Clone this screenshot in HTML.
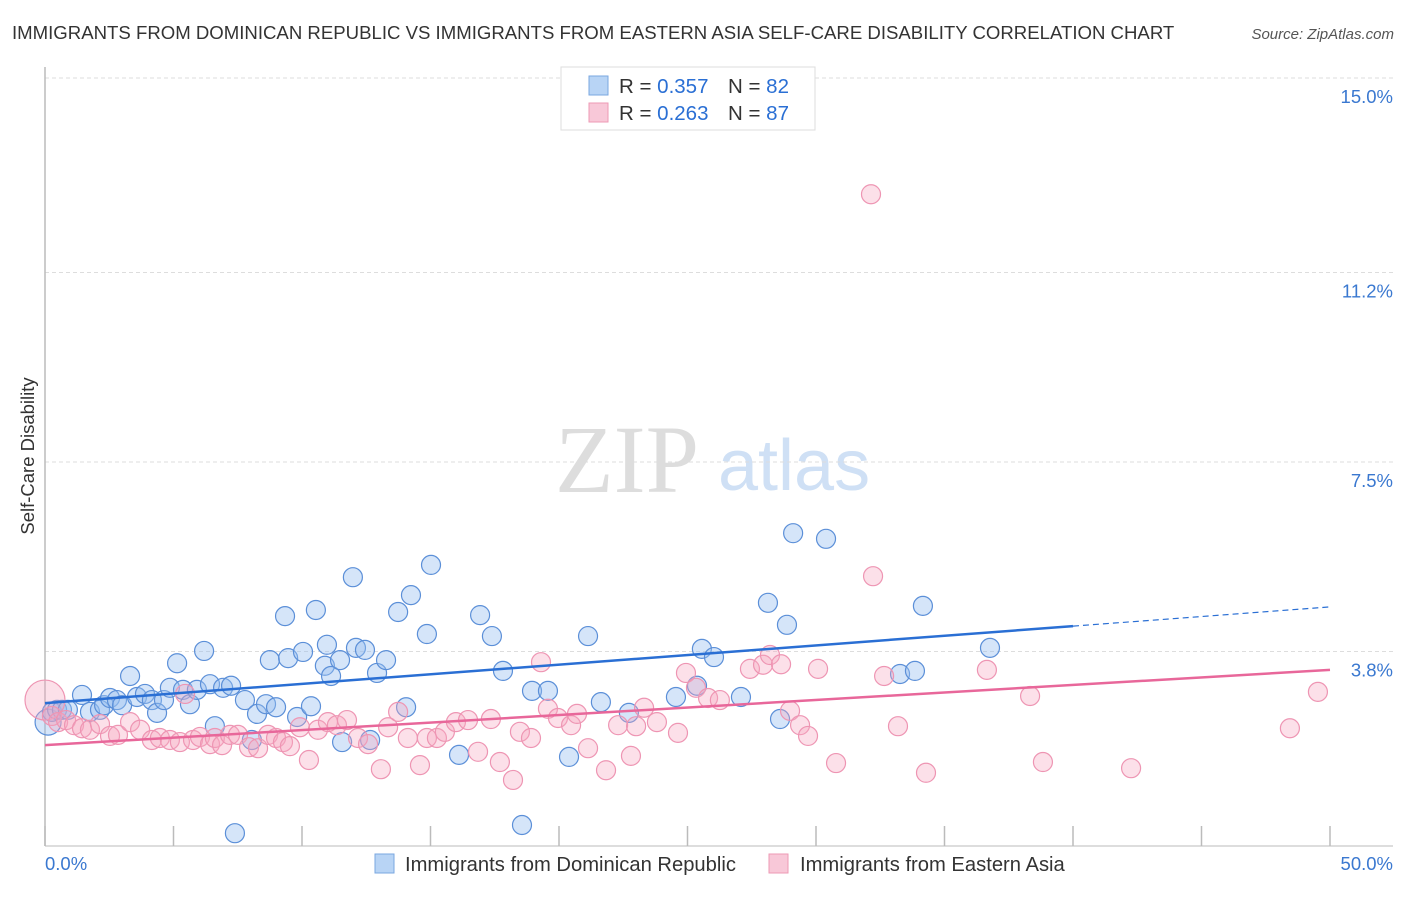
<!DOCTYPE html>
<html><head><meta charset="utf-8"><style>
body{margin:0;background:#fff;font-family:"Liberation Sans",sans-serif;}
svg text{font-family:"Liberation Sans",sans-serif;}
</style></head><body>
<svg id="c" width="1406" height="892">
<text x="12" y="39" font-size="18.6" fill="#333">IMMIGRANTS FROM DOMINICAN REPUBLIC VS IMMIGRANTS FROM EASTERN ASIA SELF-CARE DISABILITY CORRELATION CHART</text>
<text x="1394" y="39" font-size="15" fill="#555" font-style="italic" text-anchor="end">Source: ZipAtlas.com</text>
<g>
<text x="555" y="492" font-size="96" fill="#ddd" font-family="Liberation Serif" style="font-family:'Liberation Serif',serif">ZIP</text>
<text x="718" y="490" font-size="72" fill="#cfe0f5">atlas</text>
</g>
<g id="grid"></g>
<g id="pts"></g>
<g id="lines"></g>
<text transform="translate(34,456) rotate(-90)" font-size="18.5" fill="#333" text-anchor="middle">Self-Care Disability</text>
<g>
<rect x="561" y="67" width="254" height="63" fill="#fff" stroke="#ddd"/>
<rect x="589" y="76" width="19" height="19" fill="#b8d4f5" stroke="#7aa7e0"/>
<rect x="589" y="103" width="19" height="19" fill="#f8c8d8" stroke="#ee9ab5"/>
<text x="619" y="93" font-size="20.5" fill="#333">R = <tspan fill="#2a6fd4">0.357</tspan><tspan x="728">N = </tspan><tspan fill="#2a6fd4">82</tspan></text>
<text x="619" y="120" font-size="20.5" fill="#333">R = <tspan fill="#2a6fd4">0.263</tspan><tspan x="728">N = </tspan><tspan fill="#2a6fd4">87</tspan></text>
</g>
<g>
<rect x="375" y="854" width="19" height="19" fill="#b8d4f5" stroke="#7aa7e0"/>
<text x="405" y="871" font-size="20.2" fill="#333">Immigrants from Dominican Republic</text>
<rect x="769" y="854" width="19" height="19" fill="#f8c8d8" stroke="#ee9ab5"/>
<text x="800" y="871" font-size="20.2" fill="#333">Immigrants from Eastern Asia</text>
</g>
</svg>
<script>
const yTicks=[3.8,7.5,11.2,15.0];
const yTickLabels=["3.8%","7.5%","11.2%","15.0%"];
const xTicks=[0,5,10,15,20,25,30,35,40,45,50];
const blueX=[0.12,0.27,0.47,0.66,0.89,1.44,1.75,2.14,2.30,2.53,2.80,3.00,3.31,3.58,3.89,4.16,4.36,4.63,4.86,5.14,5.37,5.64,5.91,6.19,6.42,6.61,6.93,7.24,7.39,7.78,8.05,8.25,8.60,8.75,8.99,9.34,9.46,9.81,10.04,10.35,10.54,10.89,11.13,10.97,11.48,11.56,11.98,12.10,12.45,12.65,12.92,13.27,13.74,14.05,14.24,14.86,15.02,16.11,16.93,17.39,17.82,18.56,18.95,19.57,20.39,21.13,21.63,22.72,24.55,25.37,25.56,26.03,27.08,28.13,28.60,28.87,29.11,30.39,33.27,33.85,34.16,36.77];
const blueY=[2.42,2.62,2.66,2.66,2.66,2.95,2.62,2.66,2.75,2.89,2.85,2.75,3.32,2.91,2.97,2.85,2.60,2.85,3.09,3.57,3.05,2.77,3.05,3.81,3.16,2.34,3.09,3.13,0.25,2.85,2.07,2.58,2.77,3.63,2.71,4.49,3.67,2.52,3.79,2.73,4.61,3.52,3.32,3.93,3.63,2.03,5.25,3.87,3.83,2.07,3.38,3.63,4.57,2.71,4.90,4.14,5.49,1.78,4.51,4.10,3.42,0.41,3.03,3.03,1.74,4.10,2.81,2.60,2.91,3.13,3.85,3.69,2.91,4.75,2.48,4.32,6.11,6.00,3.36,3.42,4.69,3.87];
const pinkX=[0,0.27,0.51,0.82,1.13,1.44,1.75,2.14,2.53,2.84,3.31,3.70,4.16,4.47,4.86,5.25,5.45,5.76,6.03,6.42,6.61,6.89,7.20,7.51,7.94,8.29,8.68,8.99,9.26,9.53,9.92,10.27,10.62,11.01,11.36,11.75,12.18,12.57,13.07,13.35,13.74,14.12,14.59,14.86,15.25,15.56,15.99,16.46,16.85,17.35,17.70,18.21,18.48,18.91,19.30,19.57,19.96,20.47,20.70,21.13,21.83,22.30,22.80,23.00,23.31,23.81,24.63,24.94,25.33,25.80,26.26,27.43,27.94,28.21,28.64,28.99,29.38,29.69,30.08,30.78,32.14,32.22,32.65,33.19,34.28,36.65,38.33,38.83,42.26,48.44,49.53];
const pinkY=[2.85,2.54,2.42,2.46,2.36,2.30,2.27,2.38,2.15,2.17,2.42,2.27,2.07,2.11,2.07,2.03,2.97,2.07,2.13,1.99,2.11,1.97,2.17,2.17,1.93,1.91,2.17,2.11,2.03,1.95,2.32,1.68,2.27,2.42,2.36,2.46,2.11,1.99,1.50,2.32,2.62,2.11,1.58,2.11,2.11,2.23,2.42,2.46,1.84,2.48,1.64,1.29,2.23,2.11,3.59,2.68,2.50,2.36,2.58,1.91,1.48,2.36,1.76,2.34,2.70,2.42,2.21,3.38,3.09,2.89,2.85,3.46,3.54,3.73,3.55,2.64,2.36,2.15,3.46,1.62,12.73,5.27,3.32,2.34,1.43,3.44,2.93,1.64,1.52,2.30,3.01];
const blueTrend=[2.79,4.67];
const pinkTrend=[1.97,3.44];
const NS='http://www.w3.org/2000/svg';
const X0=45,X1=1330,Y0=846,YPER=51.2;
function sx(v){return X0+(X1-X0)*v/50;}
function sy(v){return Y0-v*YPER;}
function mk(tag,attrs,parent){const e=document.createElementNS(NS,tag);for(const k in attrs)e.setAttribute(k,attrs[k]);parent.appendChild(e);return e;}
const grid=document.getElementById('grid');
yTicks.forEach((t,i)=>{
 const l=mk('line',{x1:X0,x2:1393,y1:sy(t),y2:sy(t),stroke:'#ddd','stroke-dasharray':'4,3'},grid);
 
 
 const tx=mk('text',{x:1393,y:sy(t)+25,'font-size':18.5,fill:'#3a78d0','text-anchor':'end'},grid);
 tx.textContent=yTickLabels[i];
 
 
});
const ax=mk('line',{x1:X0,x2:X0,y1:67,y2:846,stroke:'#bbb','stroke-width':1.5},grid);


const bx=mk('line',{x1:X0,x2:1393,y1:846,y2:846,stroke:'#bbb'},grid);


xTicks.forEach(t=>{
 const l=mk('line',{x1:sx(t),x2:sx(t),y1:826,y2:846,stroke:'#bbb','stroke-width':1.5},grid);
 
 
});
const xl0=mk('text',{x:45,y:870,'font-size':18.5,fill:'#3a78d0'},grid);xl0.textContent='0.0%';


const xl1=mk('text',{x:1393,y:870,'font-size':18.5,fill:'#3a78d0','text-anchor':'end'},grid);xl1.textContent='50.0%';


const pts=document.getElementById('pts');
blueX.forEach((x,i)=>{
 const c=mk('circle',{cx:sx(x),cy:sy(blueY[i]),r:i==0?13:9.5,fill:'rgba(150,190,240,0.4)',stroke:'#5b8fd8','stroke-width':1.2},pts);
 
 
});
pinkX.forEach((x,i)=>{
 const c=mk('circle',{cx:sx(x),cy:sy(pinkY[i]),r:i==0?20:9.5,fill:'rgba(245,165,192,0.35)',stroke:'#ee95b3','stroke-width':1.2},pts);
 
 
});
const lines=document.getElementById('lines');
function yAt(tr,x){return tr[0]+(tr[1]-tr[0])*x/50;}
const b1=mk('line',{x1:sx(0),y1:sy(yAt(blueTrend,0)),x2:sx(40),y2:sy(yAt(blueTrend,40)),stroke:'#2a6fd4','stroke-width':2.5},lines);


const b2=mk('line',{x1:sx(40),y1:sy(yAt(blueTrend,40)),x2:sx(50),y2:sy(yAt(blueTrend,50)),stroke:'#2a6fd4','stroke-width':1.2,'stroke-dasharray':'6,4'},lines);


const p1=mk('line',{x1:sx(0),y1:sy(pinkTrend[0]),x2:sx(50),y2:sy(pinkTrend[1]),stroke:'#e8679a','stroke-width':2.5},lines);


</script>
</body></html>
